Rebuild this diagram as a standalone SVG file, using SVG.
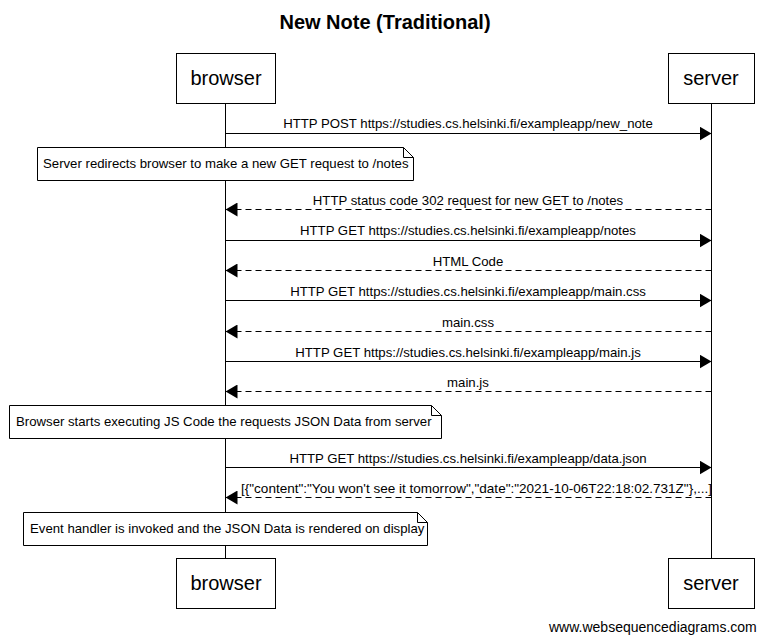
<svg xmlns="http://www.w3.org/2000/svg" width="769" height="642" viewBox="0 0 769 642">
<style>
text{font-family:"Liberation Sans",Arial,sans-serif;fill:#000}
.title{font-size:20px;font-weight:bold;text-anchor:middle}
.part{font-size:20px;text-anchor:middle}
.msg{font-size:13.2px;text-anchor:middle}
.note{font-size:13.2px}
.box{fill:#fff;stroke:#000;stroke-width:1}
.life{stroke:#000;stroke-width:1}
.line{stroke:#000;stroke-width:1;fill:none}
.dash{stroke-dasharray:6,4}
.wm{font-size:14px}
</style>
<defs>
<marker id="ah" markerWidth="12" markerHeight="14" refX="12" refY="7" orient="auto" markerUnits="userSpaceOnUse">
<path d="M0,0 L12,7 L0,14 Z" fill="#000"/>
</marker>
</defs>
<rect width="769" height="642" fill="#fff"/>
<text class="title" x="385" y="29">New Note (Traditional)</text>
<g id="lifelines">
<line class="life" x1="225.5" y1="103" x2="225.5" y2="558"/>
<line class="life" x1="711.5" y1="103" x2="711.5" y2="558"/>
</g>
<g id="browser">
<rect class="box" x="176.5" y="53.5" width="99" height="50"/>
<text class="part" x="226" y="85">browser</text>
<rect class="box" x="176.5" y="558.5" width="99" height="50"/>
<text class="part" x="226" y="590">browser</text>
</g>
<g id="server">
<rect class="box" x="668.5" y="53.5" width="86" height="50"/>
<text class="part" x="711" y="85">server</text>
<rect class="box" x="668.5" y="558.5" width="86" height="50"/>
<text class="part" x="711" y="590">server</text>
</g>
<g id="connectors">
<line class="line" x1="225.5" y1="133.5" x2="711.5" y2="133.5" marker-end="url(#ah)"/>
<text class="msg" x="468" y="128">HTTP POST https://studies.cs.helsinki.fi/exampleapp/new_note</text>
<line class="line dash" x1="711.5" y1="209.5" x2="225.5" y2="209.5" marker-end="url(#ah)"/>
<text class="msg" x="468" y="205">HTTP status code 302 request for new GET to /notes</text>
<line class="line" x1="225.5" y1="240.5" x2="711.5" y2="240.5" marker-end="url(#ah)"/>
<text class="msg" x="468" y="235">HTTP GET https://studies.cs.helsinki.fi/exampleapp/notes</text>
<line class="line dash" x1="711.5" y1="270.5" x2="225.5" y2="270.5" marker-end="url(#ah)"/>
<text class="msg" x="468" y="266">HTML Code</text>
<line class="line" x1="225.5" y1="300.5" x2="711.5" y2="300.5" marker-end="url(#ah)"/>
<text class="msg" x="468" y="296">HTTP GET https://studies.cs.helsinki.fi/exampleapp/main.css</text>
<line class="line dash" x1="711.5" y1="331.5" x2="225.5" y2="331.5" marker-end="url(#ah)"/>
<text class="msg" x="468" y="327">main.css</text>
<line class="line" x1="225.5" y1="361.5" x2="711.5" y2="361.5" marker-end="url(#ah)"/>
<text class="msg" x="468" y="357">HTTP GET https://studies.cs.helsinki.fi/exampleapp/main.js</text>
<line class="line dash" x1="711.5" y1="391.5" x2="225.5" y2="391.5" marker-end="url(#ah)"/>
<text class="msg" x="468" y="387">main.js</text>
<line class="line" x1="225.5" y1="467.5" x2="711.5" y2="467.5" marker-end="url(#ah)"/>
<text class="msg" x="468" y="463">HTTP GET https://studies.cs.helsinki.fi/exampleapp/data.json</text>
<line class="line dash" x1="711.5" y1="497.5" x2="225.5" y2="497.5" marker-end="url(#ah)"/>
<text class="msg" x="476.5" y="493" textLength="471" lengthAdjust="spacingAndGlyphs">[{"content":"You won't see it tomorrow","date":"2021-10-06T22:18:02.731Z"},...]</text>
</g>
<g id="note1">
<path class="box" d="M37.5,147.5 H403.5 L413.5,157.5 V180.5 H37.5 Z"/>
<path class="line" d="M403.5,147.5 V157.5 H413.5"/>
<text class="note" x="43" y="168">Server redirects browser to make a new GET request to /notes</text>
</g>
<g id="note2">
<path class="box" d="M9.5,405.5 H431.5 L441.5,415.5 V438.5 H9.5 Z"/>
<path class="line" d="M431.5,405.5 V415.5 H441.5"/>
<text class="note" x="16" y="426">Browser starts executing JS Code the requests JSON Data from server</text>
</g>
<g id="note3">
<path class="box" d="M23.5,512.5 H417.5 L427.5,522.5 V545.5 H23.5 Z"/>
<path class="line" d="M417.5,512.5 V522.5 H427.5"/>
<text class="note" x="30" y="533">Event handler is invoked and the JSON Data is rendered on display</text>
</g>
<text class="wm" x="549" y="632">www.websequencediagrams.com</text>
</svg>
